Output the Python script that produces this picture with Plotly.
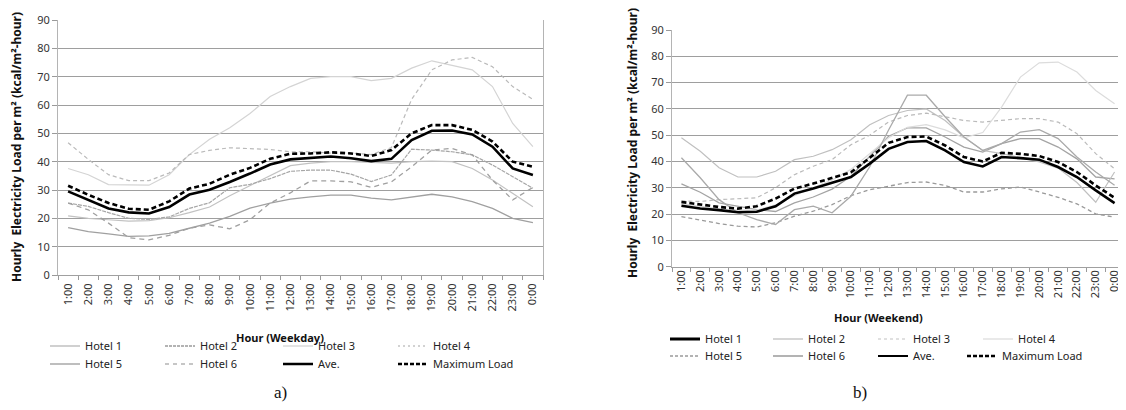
import plotly.graph_objects as go

# The page body has an 8px margin, so the figure is drawn 8px in from the
# window's top-left corner; all pixel positions below are window pixels.
OFF = 8
W, H = 1126 - OFF, 410 - OFF

hours = ["1:00", "2:00", "3:00", "4:00", "5:00", "6:00", "7:00", "8:00", "9:00", "10:00",
         "11:00", "12:00", "13:00", "14:00", "15:00", "16:00", "17:00", "18:00", "19:00",
         "20:00", "21:00", "22:00", "23:00", "0:00"]

series_names = ["Hotel 1", "Hotel 2", "Hotel 3", "Hotel 4", "Hotel 5", "Hotel 6", "Ave.", "Maximum Load"]

# ---- Weekday (a) ----
wd_hotel1 = [20.9, 20, 19.5, 19, 19.2, 20.2, 22, 24, 28, 31.5, 35, 38.6, 39.5, 40, 40, 39.8, 39.5, 40, 40.2, 40, 37.6, 33.5, 28.8, 24.1]
wd_hotel2 = [25.4, 24.2, 22, 20, 19.6, 20.5, 23.5, 25.5, 30.8, 32, 34, 36.6, 37, 37, 35.6, 33, 35.3, 44.4, 44.1, 43.5, 42.4, 38.8, 34.7, 30.6]
wd_hotel3 = [37.6, 35.4, 31.9, 31.7, 31.7, 35.4, 42.5, 47.9, 52, 57, 63, 66.5, 69.4, 70, 70, 68.6, 69.4, 73, 75.6, 74, 72.4, 66.5, 53.5, 45.3]
wd_hotel4 = [46.7, 40.8, 35.4, 33.3, 33.3, 36, 42.5, 44, 44.9, 44.7, 44.3, 43.5, 43.5, 43, 43, 42.5, 45, 62, 72.4, 75.9, 76.8, 73.5, 66.5, 62]
wd_hotel5 = [16.7, 15.3, 14.5, 13.6, 13.8, 14.7, 16.5, 18.3, 20.7, 23.6, 25.4, 26.8, 27.6, 28.2, 28.2, 27.1, 26.5, 27.6, 28.5, 27.6, 25.9, 23.5, 20, 18.5]
wd_hotel6 = [25.4, 23, 18.3, 13.2, 12.4, 14, 16.5, 17.7, 16.3, 19.5, 25.4, 29, 33.2, 33.2, 32.9, 30.9, 32.9, 38.2, 44.1, 44.7, 42.4, 33.5, 26.5, 30.9]
wd_ave = [29.5, 26.4, 23.5, 22.1, 21.7, 24, 28.4, 30.1, 32.8, 35.8, 39, 40.8, 41.3, 41.8, 41.2, 40.2, 41, 47.6, 50.9, 51, 49.6, 45.3, 37.6, 35.3]
wd_max = [31.5, 28.3, 25.4, 23.4, 23, 26, 30.5, 32.2, 35.4, 37.8, 41, 42.8, 42.9, 43.3, 42.9, 42, 44.1, 50, 52.9, 52.9, 51.2, 47.1, 40, 38.2]

# ---- Weekend (b) ----
we_hotel1 = [31.5, 28.3, 24.3, 23, 21.7, 21, 24.3, 26.5, 29.5, 34.4, 42, 49.6, 52.8, 52.8, 49.3, 45.5, 43.6, 46.8, 48.7, 48.7, 45.5, 41, 34.1, 33.4]
we_hotel2 = [49, 43.9, 37.6, 34.1, 34.1, 36.3, 40.7, 42, 44.5, 48.3, 54, 57.5, 59.4, 60, 55.6, 49.3, 44.2, 43, 41.5, 39.8, 37.5, 32, 24.5, 36]
we_hotel3 = [25, 24.8, 25.5, 25.8, 26.2, 30, 35, 38.2, 40.7, 46.4, 50, 55, 57.5, 58.4, 56.9, 55.6, 55, 55.6, 56.3, 56.3, 55, 50.6, 43, 37.2]
we_hotel4 = [24, 23, 22, 21.5, 21.5, 23.5, 27, 30, 33, 37, 43, 49, 53, 54, 52, 49, 51, 60.7, 72.1, 77.5, 77.8, 74, 67, 62]
we_hotel5 = [19, 17.7, 16.4, 15.4, 15.1, 16.7, 19.2, 21.1, 23.6, 27, 29.3, 30.6, 32, 32.2, 30.9, 28.4, 28.4, 29.6, 30.3, 28.4, 26.4, 23.9, 20.1, 18.8]
we_hotel6 = [41.4, 33.8, 25.5, 20.5, 17.9, 16, 21.7, 23, 20.5, 26.8, 38, 52, 65.2, 65.2, 57, 49.3, 44.2, 46.8, 51.2, 52.1, 48.7, 41.7, 36, 31]
we_ave = [23.2, 22.1, 21.5, 20.7, 20.9, 23, 27.8, 29.7, 31.9, 34.1, 39.2, 44.8, 47.4, 47.8, 44.2, 39.8, 38.1, 41.7, 41.3, 40.7, 37.9, 34.1, 29, 24.2]
we_max = [24.6, 23.6, 22.7, 22.1, 23, 25.9, 29.7, 31.6, 33.8, 35.9, 41.4, 47.1, 49.3, 49.5, 46.1, 41.7, 40, 43.3, 42.9, 42.1, 39.8, 36, 30.9, 26.2]

wd_values = [wd_hotel1, wd_hotel2, wd_hotel3, wd_hotel4, wd_hotel5, wd_hotel6, wd_ave, wd_max]
we_values = [we_hotel1, we_hotel2, we_hotel3, we_hotel4, we_hotel5, we_hotel6, we_ave, we_max]

# styles of the drawn lines (color, width, dash)
wd_line_styles = [
    ("#c2c2c2", 1.2, "solid"),
    ("#a6a6a6", 1.2, "4px,1px"),
    ("#d4d4d4", 1.2, "solid"),
    ("#bababa", 1.2, "4px,3px"),
    ("#a0a0a0", 1.3, "solid"),
    ("#a0a0a0", 1.3, "5px,4px"),
    ("#000000", 2.6, "solid"),
    ("#000000", 2.6, "5px,3px"),
]
we_line_styles = [
    ("#a4a4a4", 1.3, "solid"),
    ("#c0c0c0", 1.2, "solid"),
    ("#bababa", 1.2, "4px,3px"),
    ("#dcdcdc", 1.2, "solid"),
    ("#9a9a9a", 1.3, "4px,3px"),
    ("#aaaaaa", 1.3, "solid"),
    ("#000000", 2.6, "solid"),
    ("#000000", 2.6, "5px,3px"),
]
# styles as they appear in each legend
wd_legend_styles = [
    ("#c0c0c0", 1.3, "solid"),
    ("#9a9a9a", 1.3, "3px,1px"),
    ("#dadada", 1.3, "solid"),
    ("#c4c4c4", 1.3, "2px,3px"),
    ("#a8a8a8", 1.5, "solid"),
    ("#b4b4b4", 1.3, "4px,4px"),
    ("#000000", 2.6, "solid"),
    ("#000000", 2.4, "4px,2px"),
]
we_legend_styles = [
    ("#000000", 2.8, "solid"),
    ("#c8c8c8", 1.3, "solid"),
    ("#d6d6d6", 1.3, "3px,3px"),
    ("#e2e2e2", 1.3, "solid"),
    ("#9a9a9a", 1.3, "3px,2px"),
    ("#9a9a9a", 1.5, "solid"),
    ("#000000", 2.0, "solid"),
    ("#000000", 2.4, "4px,2px"),
]

# legend entry positions (window pixel x of entry start, y of row centre)
wd_legend_pos = [(45, 346), (160, 346), (278, 346), (393, 346),
                 (45, 364), (160, 364), (278, 364), (393, 364)]
we_legend_pos = [(665, 339), (768, 339), (873, 339), (978, 339),
                 (665, 356), (768, 356), (873, 356), (962, 356)]

FONT = "Noto Sans"
fig = go.Figure()


def px(x):
    return (x - OFF) / W


def py(y):
    return 1 - (y - OFF) / H


legend_layouts = {}
legend_counter = [0]


def add_panel(values, line_styles, legend_styles, legend_pos, xa, ya, tag):
    for name, vals, (c, w, d) in zip(series_names, values, line_styles):
        fig.add_trace(go.Scatter(x=hours, y=vals, mode="lines", name=name,
                                 line=dict(color=c, width=w, dash=d),
                                 xaxis=xa, yaxis=ya, showlegend=False,
                                 legendgroup=tag + name))
    for name, (c, w, d), (lx, ly) in zip(series_names, legend_styles, legend_pos):
        legend_counter[0] += 1
        n = legend_counter[0]
        key = "legend" if n == 1 else "legend%d" % n
        legend_layouts[key] = dict(
            x=px(lx), y=py(ly), xanchor="left", yanchor="middle", orientation="h",
            font=dict(family=FONT, size=11, color="#222222"),
            bgcolor="rgba(0,0,0,0)", borderwidth=0)
        fig.add_trace(go.Scatter(x=[None], y=[None], mode="lines", name=name,
                                 line=dict(color=c, width=w, dash=d),
                                 xaxis=xa, yaxis=ya, showlegend=True,
                                 legendgroup=tag + name, legend=key))


add_panel(wd_values, wd_line_styles, wd_legend_styles, wd_legend_pos, "x", "y", "a")
add_panel(we_values, we_line_styles, we_legend_styles, we_legend_pos, "x2", "y2", "b")

tickfont = dict(family=FONT, size=11, color="#333333")

xcommon = dict(type="category", categoryorder="array", categoryarray=hours,
               range=[-0.5, len(hours) - 0.5],
               tickson="boundaries", ticks="outside", ticklen=4, tickcolor="#9a9a9a",
               tickangle=-90, tickfont=tickfont, showline=True, linecolor="#a0a0a0",
               linewidth=1, showgrid=False, zeroline=False, mirror=False, automargin=False,
               ticklabeloverflow="allow")
ycommon = dict(range=[0, 90], dtick=10, tick0=0, ticks="outside", ticklen=5,
               tickcolor="#9a9a9a", tickfont=tickfont, showline=True,
               linecolor="#b4b4b4", linewidth=1, mirror=True, showgrid=True,
               gridcolor="#9e9e9e", gridwidth=1.3, zeroline=False, automargin=False)

fig.update_layout(
    width=W, height=H,
    margin=dict(l=0, r=0, t=0, b=0, autoexpand=False),
    paper_bgcolor="white", plot_bgcolor="white",
    xaxis=dict(domain=[px(58), px(543)], anchor="y", ticklabelstandoff=3, **xcommon),
    yaxis=dict(domain=[py(275), py(20)], anchor="x", **ycommon),
    xaxis2=dict(domain=[px(672), px(1124)], anchor="y2", ticklabelstandoff=-2, **xcommon),
    yaxis2=dict(domain=[py(266.7), py(30)], anchor="x2", **ycommon),
    hovermode="closest",
    **legend_layouts,
)

ytitle = "Hourly  Electricity Load per m² (kcal/m²-hour)"
ann_font = dict(family=FONT, size=11, color="#111111")
ytitle_font = dict(family=FONT, size=12, color="#111111")
fig.add_annotation(text="<b>" + ytitle + "</b>", x=px(17), y=py(147), xref="paper", yref="paper",
                   textangle=-90, showarrow=False, font=ytitle_font, xanchor="center", yanchor="middle")
fig.add_annotation(text="<b>" + ytitle + "</b>", x=px(632), y=py(143), xref="paper", yref="paper",
                   textangle=-90, showarrow=False, font=ytitle_font, xanchor="center", yanchor="middle")
fig.add_annotation(text="<b>Hour (Weekday)</b>", x=px(280), y=py(337), xref="paper", yref="paper",
                   showarrow=False, font=ann_font, xanchor="center", yanchor="middle")
fig.add_annotation(text="<b>Hour (Weekend)</b>", x=px(878), y=py(317), xref="paper", yref="paper",
                   showarrow=False, font=ann_font, xanchor="center", yanchor="middle")
fig.add_annotation(text="a)", x=px(280), y=py(392), xref="paper", yref="paper", showarrow=False,
                   font=dict(family="Liberation Serif", size=17, color="#111111"),
                   xanchor="center", yanchor="middle")
fig.add_annotation(text="b)", x=px(860), y=py(392), xref="paper", yref="paper", showarrow=False,
                   font=dict(family="Liberation Serif", size=17, color="#111111"),
                   xanchor="center", yanchor="middle")

fig.write_html("out.html")
